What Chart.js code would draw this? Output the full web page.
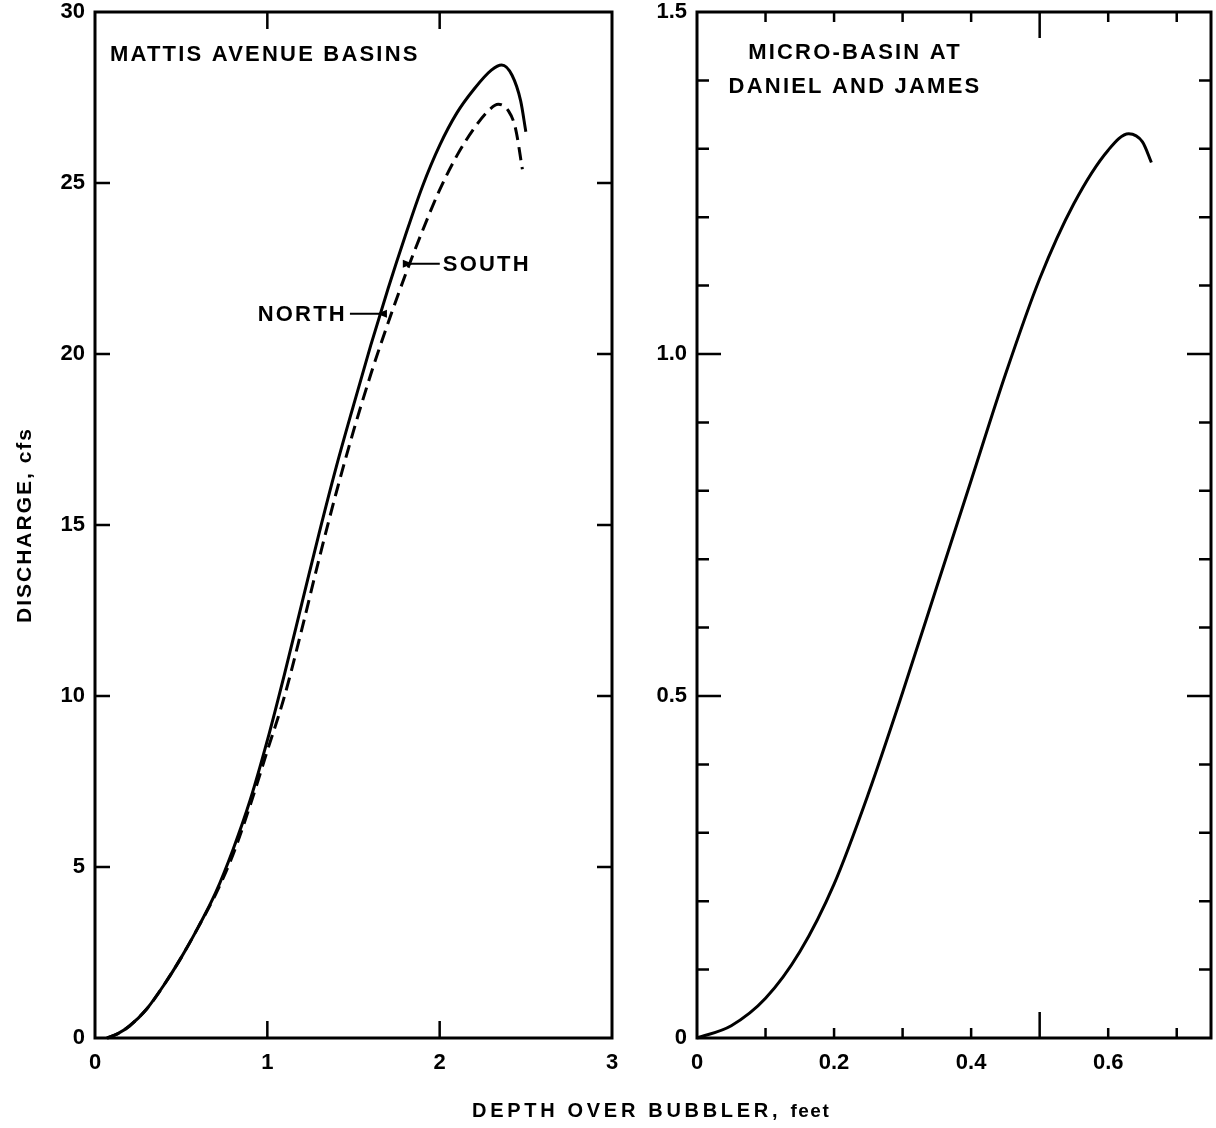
<!DOCTYPE html>
<html>
<head>
<meta charset="utf-8">
<script src="https://cdn.jsdelivr.net/npm/chart.js@4.4.1/dist/chart.umd.min.js"></script>
<style>
  html, body { margin: 0; padding: 0; background: #fff; }
  #wrap { position: relative; width: 1216px; height: 1128px; overflow: hidden; }
  #leftChart { position: absolute; left: 0; top: 0; }
  #rightChart { position: absolute; left: 640px; top: 0; }
  #xTitle {
    position: absolute; left: 472px; top: 1099px; white-space: nowrap;
    font: bold 20px "Liberation Sans", Arial, sans-serif; letter-spacing: 3.7px; color: #000;
  }
  #xTitle span { font-size: 19px; letter-spacing: 1.5px; }
</style>
</head>
<body>
<div id="wrap">
  <canvas id="leftChart" width="640" height="1128"></canvas>
  <canvas id="rightChart" width="576" height="1128"></canvas>
  <div id="xTitle">DEPTH OVER BUBBLER, <span>feet</span></div>
</div>
<script>
// ===== DADOS =====
// Mattis Avenue basins, north (solid) and south (dashed): depth ft, discharge cfs
const northDepth = [0.07, 0.13, 0.2, 0.3, 0.4, 0.5, 0.6, 0.7, 0.8, 0.9, 1.0, 1.1, 1.2, 1.3, 1.4, 1.5, 1.6, 1.7, 1.8, 1.9, 2.0, 2.1, 2.2, 2.3, 2.36, 2.42, 2.47, 2.50];
const northFlow  = [0, 0.12, 0.35, 0.85, 1.55, 2.35, 3.25, 4.25, 5.5, 6.95, 8.7, 10.65, 12.7, 14.75, 16.7, 18.5, 20.25, 21.9, 23.45, 24.9, 26.1, 27.05, 27.75, 28.3, 28.45, 28.15, 27.4, 26.5];
const southDepth = [0.07, 0.13, 0.2, 0.3, 0.4, 0.5, 0.6, 0.7, 0.8, 0.9, 1.0, 1.1, 1.2, 1.3, 1.4, 1.5, 1.6, 1.7, 1.8, 1.9, 2.0, 2.1, 2.2, 2.28, 2.34, 2.40, 2.44, 2.48];
const southFlow  = [0, 0.12, 0.35, 0.85, 1.55, 2.35, 3.25, 4.2, 5.35, 6.8, 8.4, 10.0, 11.95, 14.0, 15.95, 17.75, 19.4, 20.9, 22.3, 23.6, 24.8, 25.8, 26.6, 27.1, 27.3, 27.1, 26.6, 25.4];
// Micro-basin at Daniel and James
const microDepth = [0, 0.05, 0.1, 0.15, 0.2, 0.25, 0.3, 0.35, 0.4, 0.45, 0.5, 0.55, 0.6, 0.63, 0.65, 0.663];
const microFlow  = [0, 0.018, 0.058, 0.126, 0.225, 0.357, 0.505, 0.66, 0.815, 0.97, 1.11, 1.22, 1.298, 1.322, 1.31, 1.28];

// tick labels and inward tick marks
const leftXLabels = [0, 1, 2, 3];
const leftYLabels = [0, 5, 10, 15, 20, 25, 30];
const rightXLabels = [0, 0.2, 0.4, 0.6];
const rightYLabels = [0, 0.5, 1.0, 1.5];
const leftXMarks = [1, 2];
const leftYMarks = [5, 10, 15, 20, 25];
const rightXMarks = [0.1, 0.2, 0.3, 0.4, 0.5, 0.6, 0.7];
const rightXLong = [0.5];
const rightYMarks = [0.1, 0.2, 0.3, 0.4, 0.5, 0.6, 0.7, 0.8, 0.9, 1.0, 1.1, 1.2, 1.3, 1.4];
const rightYLong = [0.5, 1.0];

const FONT = '"Liberation Sans", Arial, sans-serif';
const pts = (xs, ys) => xs.map((x, i) => ({ x, y: ys[i] }));

// ===== PLUGIN: moldura, marcas internas e textos =====
const framePlugin = {
  id: "frame",
  afterDatasetsDraw(chart, args, o) {
    const { ctx, chartArea: a, scales: { x, y } } = chart;
    ctx.save();
    ctx.strokeStyle = "#000";
    ctx.fillStyle = "#000";
    ctx.lineWidth = 3;
    ctx.strokeRect(a.left, a.top, a.right - a.left, a.bottom - a.top);

    ctx.lineWidth = 2.5;
    ctx.beginPath();
    o.xMarks.forEach(v => {
      const len = o.xLong.includes(v) ? o.xLongLen : o.xLen;
      const px = x.getPixelForValue(v);
      ctx.moveTo(px, a.bottom); ctx.lineTo(px, a.bottom - len);
      ctx.moveTo(px, a.top); ctx.lineTo(px, a.top + len);
    });
    o.yMarks.forEach(v => {
      const len = o.yLong.includes(v) ? o.yLongLen : o.yLen;
      const py = y.getPixelForValue(v);
      ctx.moveTo(a.left, py); ctx.lineTo(a.left + len, py);
      ctx.moveTo(a.right, py); ctx.lineTo(a.right - len, py);
    });
    ctx.stroke();

    ctx.font = "bold 22px " + FONT;
    ctx.letterSpacing = "2.2px";
    ctx.textBaseline = "middle";
    (o.notes || []).forEach(n => {
      ctx.textAlign = n.align;
      n.lines.forEach((t, i) => ctx.fillText(t, a.left + n.dx, a.top + n.dy + i * 34));
    });

    // setas NORTH / SOUTH
    (o.arrows || []).forEach(ar => {
      const tx = x.getPixelForValue(ar.x), ty = y.getPixelForValue(ar.y);
      const tail = tx + ar.dir * 27;
      ctx.lineWidth = 2;
      ctx.beginPath();
      ctx.moveTo(tail, ty); ctx.lineTo(tx - ar.dir * 8, ty);
      ctx.stroke();
      ctx.beginPath();
      ctx.moveTo(tx, ty);
      ctx.lineTo(tx - ar.dir * 10, ty - 4);
      ctx.lineTo(tx - ar.dir * 10, ty + 4);
      ctx.closePath();
      ctx.fill();
      ctx.textAlign = ar.dir < 0 ? "right" : "left";
      ctx.fillText(ar.text, tail + ar.dir * 3, ty + 1);
    });

    if (o.yTitle) {
      ctx.save();
      ctx.translate(25, (a.top + a.bottom) / 2);
      ctx.rotate(-Math.PI / 2);
      ctx.font = "bold 21px " + FONT;
      ctx.letterSpacing = "2px";
      ctx.textAlign = "center";
      ctx.fillText(o.yTitle, 0, 0);
      ctx.restore();
    }
    ctx.restore();
  }
};

function axis(labels, fmt, padding, size) {
  return {
    type: "linear",
    min: labels[0],
    max: labels[labels.length - 1],
    grid: { display: false, drawTicks: false },
    border: { display: false },
    ticks: {
      color: "#000",
      padding,
      autoSkip: false,
      maxRotation: 0,
      font: { family: FONT, size: 22, weight: "bold" },
      callback: fmt
    },
    afterBuildTicks: s => { s.ticks = labels.map(v => ({ value: v })); },
    afterFit: s => {
      // fixed box so the plot area lands where the original frame is
      if (s.isHorizontal()) s.height = size; else s.width = size;
      s.paddingTop = s.paddingBottom = s.paddingLeft = s.paddingRight = 0;
    }
  };
}

const baseOpts = {
  responsive: false,
  animation: false,
  events: [],
  plugins: { legend: { display: false }, tooltip: { enabled: false } }
};

const line = (data, dash) => ({
  data,
  showLine: true,
  borderColor: "#000",
  borderWidth: 3,
  borderDash: dash,
  pointRadius: 0,
  cubicInterpolationMode: "monotone",
  clip: false
});

// ===== GRÁFICO ESQUERDO =====
new Chart(document.getElementById("leftChart"), {
  type: "scatter",
  data: {
    datasets: [
      line(pts(northDepth, northFlow), []),
      line(pts(southDepth, southFlow), [13, 7])
    ]
  },
  options: {
    ...baseOpts,
    layout: { padding: { left: 0, top: 12, right: 28, bottom: 0 } },
    scales: {
      x: axis(leftXLabels, v => String(v), 12, 90),
      y: axis(leftYLabels, v => String(v), 10, 95)
    },
    plugins: {
      ...baseOpts.plugins,
      frame: {
        xMarks: leftXMarks, xLong: [], xLen: 17, xLongLen: 17,
        yMarks: leftYMarks, yLong: [], yLen: 15, yLongLen: 15,
        notes: [{ lines: ["MATTIS AVENUE BASINS"], dx: 15, dy: 43, align: "left" }],
        arrows: [
          { text: "NORTH", x: 1.636, y: 21.18, dir: -1 },
          { text: "SOUTH", x: 1.844, y: 22.64, dir: 1 }
        ],
        yTitle: "DISCHARGE, cfs"
      }
    }
  },
  plugins: [framePlugin]
});

// ===== GRÁFICO DIREITO =====
const rightX = axis(rightXLabels, v => (v === 0 ? "0" : v.toFixed(1)), 12, 90);
rightX.max = 0.75;
new Chart(document.getElementById("rightChart"), {
  type: "scatter",
  data: { datasets: [line(pts(microDepth, microFlow), [])] },
  options: {
    ...baseOpts,
    layout: { padding: { left: 0, top: 12, right: 5, bottom: 0 } },
    scales: {
      x: rightX,
      y: axis(rightYLabels, v => (v === 0 ? "0" : v.toFixed(1)), 10, 57)
    },
    plugins: {
      ...baseOpts.plugins,
      frame: {
        xMarks: rightXMarks, xLong: rightXLong, xLen: 10, xLongLen: 26,
        yMarks: rightYMarks, yLong: rightYLong, yLen: 12, yLongLen: 24,
        notes: [{ lines: ["MICRO-BASIN AT", "DANIEL AND JAMES"], dx: 158, dy: 41, align: "center" }]
      }
    }
  },
  plugins: [framePlugin]
});
</script>
</body>
</html>
